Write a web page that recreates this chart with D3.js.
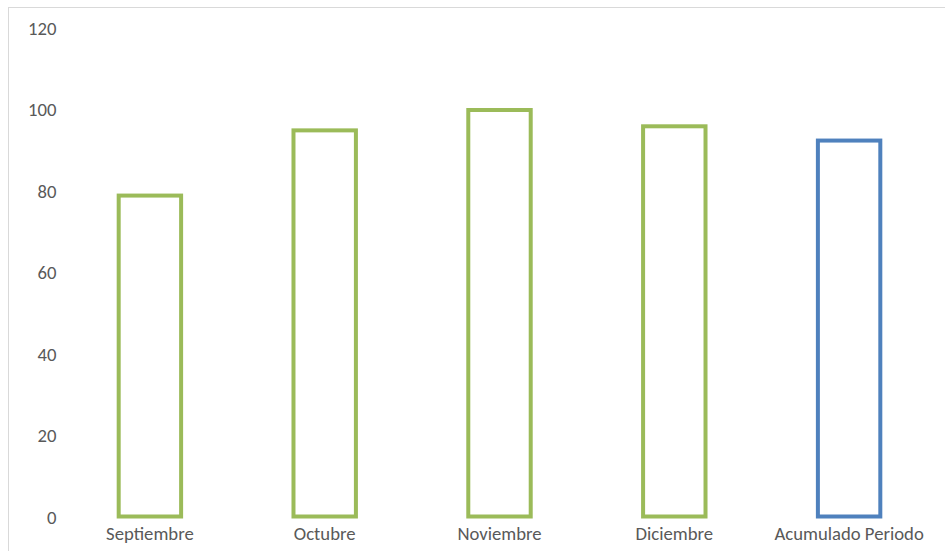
<!DOCTYPE html>
<html>
<head>
<meta charset="utf-8">
<script src="https://cdn.jsdelivr.net/npm/d3@7"></script>
<style>
  html, body { margin: 0; padding: 0; background: #fff; }
  svg { display: block; }
</style>
</head>
<body>
<svg id="chart" width="945" height="551"></svg>
<script>
// Monthly values and the accumulated value for the period
const categories = ["Septiembre", "Octubre", "Noviembre", "Diciembre", "Acumulado Periodo"];
const values = [79, 95, 100, 96, 92.5];
const barColors = ["#9bbb59", "#9bbb59", "#9bbb59", "#9bbb59", "#4f81bd"];
const yTicks = [0, 20, 40, 60, 80, 100, 120];

const svg = d3.select("#chart");
const W = 945, H = 551;

// Outer chart frame
svg.append("rect")
  .attr("x", 8.5).attr("y", 7.5)
  .attr("width", W + 10).attr("height", H + 10)
  .attr("fill", "#fff")
  .attr("stroke", "#d9d9d9")
  .attr("stroke-width", 1);

const plot = { left: 62.5, right: 936.5, top: 28.5, bottom: 517.5 };

const x = d3.scaleBand()
  .domain(categories)
  .range([plot.left, plot.right])
  .paddingInner(0.62)
  .paddingOuter(0.31);

const y = d3.scaleLinear()
  .domain([0, 120])
  .range([plot.bottom, plot.top]);

const font = "Carlito, Lato, 'Open Sans', sans-serif";

// Y axis (labels only)
const yAxis = svg.append("g")
  .attr("transform", `translate(${plot.left - 6},0)`)
  .call(d3.axisLeft(y).tickValues(yTicks).tickSize(0).tickPadding(0));
yAxis.select(".domain").remove();
yAxis.selectAll("text")
  .attr("fill", "#595959")
  .style("font-family", font)
  .style("font-size", "18.7px");

// X axis (labels only)
const xAxis = svg.append("g")
  .attr("transform", `translate(0,${plot.bottom})`)
  .call(d3.axisBottom(x).tickSize(0).tickPadding(9));
xAxis.select(".domain").remove();
xAxis.selectAll("text")
  .attr("fill", "#595959")
  .style("font-family", font)
  .style("font-size", "18.7px");

// Outlined bars
const sw = 4;
svg.append("g")
  .selectAll("rect")
  .data(categories.map((c, i) => ({ c, v: values[i], color: barColors[i] })))
  .join("rect")
  .attr("x", d => x(d.c) + sw / 2)
  .attr("width", x.bandwidth() - sw)
  .attr("y", d => y(d.v))
  .attr("height", d => y(0) - y(d.v) - 1)
  .attr("fill", "none")
  .attr("stroke", d => d.color)
  .attr("stroke-width", sw);
</script>
</body>
</html>
